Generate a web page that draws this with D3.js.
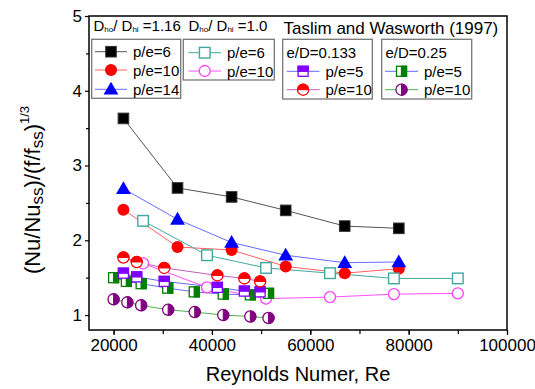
<!DOCTYPE html>
<html><head><meta charset="utf-8">
<script src="https://cdn.jsdelivr.net/npm/d3@7"></script>
<style>body{margin:0;background:#fff}svg{display:block}text{font-family:"Liberation Sans",Arial,sans-serif;fill:#000}</style>
</head><body><svg id="c" width="535" height="389"></svg>
<script>
// Data
const reA = [22000,33000,44000,55000,67000,78000];
const d116_pe6 = [3.63,2.70,2.58,2.40,2.19,2.16];
const d116_pe10 = [2.41,1.91,1.87,1.65,1.56,1.62];
const d116_pe14 = [2.69,2.28,1.97,1.80,1.70,1.71];
const reB = [26000,39000,51000,64000,77000,90000];
const d10_pe6 = [2.26,1.80,1.63,1.56,1.49,1.49];
const d10_pe10 = [1.69,1.37,1.22,1.24,1.28,1.29];
const reC = [22000,24700,30300,41100,46600,49800];
const ed133_pe5 = [1.56,1.51,1.45,1.37,1.32,1.31];
const ed133_pe10 = [1.77,1.71,1.63,1.53,1.49,1.45];
const reD = [20000,22600,25600,31000,36400,42300,47800,51500];
const ed25_pe5 = [1.50,1.45,1.42,1.36,1.31,1.28,1.27,1.29];
const reE = [20000,22800,25600,31100,36500,42300,47800,51500];
const ed25_pe10 = [1.21,1.17,1.13,1.07,1.04,1.00,0.98,0.96];
const xTicks = [20000,40000,60000,80000,100000];
const yTicks = [1,2,3,4,5];

const svg = d3.select("#c");
const L=89, R=507, T=16, B=330;
const x = d3.scaleLinear().domain([15000,100000]).range([L,R]);
const y = d3.scaleLinear().domain([0.8,5]).range([B,T]);

const series = [
  {re:reA, v:d116_pe6, line:"#555", m:"sq", fill:"#000", stroke:"#333"},
  {re:reA, v:d116_pe10, line:"#ff6060", m:"ci", fill:"#ff0000", stroke:"#ff0000"},
  {re:reA, v:d116_pe14, line:"#6a6aff", m:"tri", fill:"#0000ff", stroke:"#0000ff"},
  {re:reB, v:d10_pe6, line:"#40a8a0", m:"osq", fill:"#fff", stroke:"#40a8a0"},
  {re:reB, v:d10_pe10, line:"#ff50ff", m:"oci", fill:"#fff", stroke:"#ff40ff"},
  {re:reD, v:ed25_pe5, line:"#6a6af0", m:"hsqR", fill:"#008000", stroke:"#008000"},
  {re:reE, v:ed25_pe10, line:"#50b050", m:"hciR", fill:"#800080", stroke:"#800080"},
  {re:reC, v:ed133_pe5, line:"#6a6af0", m:"hsqT", fill:"#8000ff", stroke:"#8000ff"},
  {re:reC, v:ed133_pe10, line:"#c060c0", m:"hciT", fill:"#ff0000", stroke:"#ff0000"}
];

function marker(g, type, cx, cy, fill, stroke){
  const s=5.3, r=6;
  if(type==="sq"){g.append("rect").attr("x",cx-s).attr("y",cy-s).attr("width",2*s).attr("height",2*s).attr("fill",fill).attr("stroke",stroke).attr("stroke-width",1);}
  else if(type==="osq"){g.append("rect").attr("x",cx-s).attr("y",cy-s).attr("width",2*s).attr("height",2*s).attr("fill","#fff").attr("stroke",stroke).attr("stroke-width",1.4);}
  else if(type==="ci"){g.append("circle").attr("cx",cx).attr("cy",cy).attr("r",r).attr("fill",fill);}
  else if(type==="oci"){g.append("circle").attr("cx",cx).attr("cy",cy).attr("r",5.5).attr("fill","#fff").attr("stroke",stroke).attr("stroke-width",1.3);}
  else if(type==="tri"){g.append("path").attr("transform",`translate(${cx},${cy+1})`).attr("d",d3.symbol(d3.symbolTriangle,95)()).attr("fill",fill);}
  else if(type==="hsqT"||type==="hsqR"){
    const sz=5;
    g.append("rect").attr("x",cx-sz).attr("y",cy-sz).attr("width",2*sz).attr("height",2*sz).attr("fill","#fff").attr("stroke",stroke).attr("stroke-width",1.3);
    if(type==="hsqT") g.append("rect").attr("x",cx-sz).attr("y",cy-sz).attr("width",2*sz).attr("height",sz).attr("fill",fill).attr("stroke",stroke).attr("stroke-width",1.3);
    else g.append("rect").attr("x",cx).attr("y",cy-sz).attr("width",sz).attr("height",2*sz).attr("fill",fill).attr("stroke",stroke).attr("stroke-width",1.3);
  }
  else if(type==="hciT"||type==="hciR"){
    const rr=5.6;
    g.append("circle").attr("cx",cx).attr("cy",cy).attr("r",rr).attr("fill","#fff").attr("stroke",stroke).attr("stroke-width",1.3);
    const p=d3.path();
    if(type==="hciT"){p.moveTo(cx-rr,cy);p.arc(cx,cy,rr,Math.PI,2*Math.PI);p.closePath();}
    else {p.moveTo(cx,cy-rr);p.arc(cx,cy,rr,-Math.PI/2,Math.PI/2);p.closePath();}
    g.append("path").attr("d",p.toString()).attr("fill",fill).attr("stroke",stroke).attr("stroke-width",1);
  }
}

// frame
svg.append("rect").attr("x",L).attr("y",T).attr("width",R-L).attr("height",B-T).attr("fill","none").attr("stroke","#000").attr("stroke-width",1.5);

// axes ticks (outward)
const xa = svg.append("g").attr("transform",`translate(0,${B})`);
xa.call(d3.axisBottom(x).tickValues(d3.range(20000,100001,10000)).tickSize(4).tickFormat(""));
const xb = svg.append("g").attr("transform",`translate(0,${B})`);
xb.call(d3.axisBottom(x).tickValues(xTicks).tickSize(5).tickPadding(4).tickFormat(d3.format("d")));
const ya = svg.append("g").attr("transform",`translate(${L},0)`);
ya.call(d3.axisLeft(y).tickValues(d3.range(1.5,5,1)).tickSize(3).tickFormat(""));
const yb = svg.append("g").attr("transform",`translate(${L},0)`);
yb.call(d3.axisLeft(y).tickValues(yTicks).tickSize(4).tickPadding(3).tickFormat(d3.format("d")));
svg.selectAll(".domain").remove();
svg.selectAll(".tick line").attr("stroke","#000").attr("stroke-width",1.2);
xb.selectAll("text").attr("font-size",17).style("font-family","Liberation Sans, Arial, sans-serif");
yb.selectAll("text").attr("font-size",17).style("font-family","Liberation Sans, Arial, sans-serif");

// lines
const gl = svg.append("g");
series.forEach(s=>{
  const pts = s.re.map((r,i)=>[x(r),y(s.v[i])]);
  gl.append("path").attr("d",d3.line()(pts)).attr("fill","none").attr("stroke",s.line).attr("stroke-width",1);
});
// markers
const gm = svg.append("g");
series.forEach(s=>{
  s.re.forEach((r,i)=>marker(gm,s.m,x(r),y(s.v[i]),s.fill,s.stroke));
});

// axis titles
svg.append("text").attr("x",298).attr("y",381).attr("text-anchor","middle").attr("font-size",20).text("Reynolds Numer, Re");
const yl = svg.append("text").attr("transform","translate(40,190) rotate(-90)").attr("text-anchor","middle").attr("font-size",22);
yl.append("tspan").text("(Nu/Nu");
yl.append("tspan").attr("font-size",17).attr("dy",3).text("ss");
yl.append("tspan").attr("dy",-3).text(")/(f/f");
yl.append("tspan").attr("font-size",17).attr("dy",3).text("ss");
yl.append("tspan").attr("dy",-3).text(")");
yl.append("tspan").attr("font-size",13).attr("dy",-11).text("1/3");

// legend headings
function dd(xp, val){
  const t = svg.append("text").attr("x",xp).attr("y",31).attr("font-size",15);
  t.append("tspan").text("D");
  t.append("tspan").attr("font-size",8).attr("dy",1).text("ho");
  t.append("tspan").attr("dy",-1).text("/ D");
  t.append("tspan").attr("font-size",8).attr("dy",1).text("hi");
  t.append("tspan").attr("dy",-1).text(" =" + val);
}
dd(93.5,"1.16");
dd(188.5,"1.0");
svg.append("text").attr("x",283.5).attr("y",34).attr("font-size",17).text("Taslim and Wasworth (1997)");

function box(x0,y0,x1,y1){svg.append("rect").attr("x",x0).attr("y",y0).attr("width",x1-x0).attr("height",y1-y0).attr("fill","#fff").attr("stroke","#777").attr("stroke-width",1.3);}
function entry(lx0,lx1,yy,s,label){
  svg.append("line").attr("x1",lx0).attr("x2",lx1).attr("y1",yy).attr("y2",yy).attr("stroke",s.line).attr("stroke-width",1);
  marker(svg,s.m,(lx0+lx1)/2,yy,s.fill,s.stroke);
  svg.append("text").attr("x",lx1+6).attr("y",yy+5.5).attr("font-size",15).text(label);
}
box(91.7,39.3,180.7,98.3);
entry(95,127,51.7,series[0],"p/e=6");
entry(95,127,70,series[1],"p/e=10");
entry(95,127,89.3,series[2],"p/e=14");
box(183.3,39.3,274.3,80);
entry(188.5,221,52.7,series[3],"p/e=6");
entry(188.5,221,71,series[4],"p/e=10");
box(282.7,39.3,372.3,99);
svg.append("text").attr("x",286.5).attr("y",58).attr("font-size",15).text("e/D=0.133");
entry(286.7,319.5,71.3,series[7],"p/e=5");
entry(286.7,319.5,89.7,series[8],"p/e=10");
box(381.7,39.3,471.7,99);
svg.append("text").attr("x",385.5).attr("y",58).attr("font-size",15).text("e/D=0.25");
entry(385,418,71.3,series[5],"p/e=5");
entry(385,418,89.7,series[6],"p/e=10");
</script></body></html>
